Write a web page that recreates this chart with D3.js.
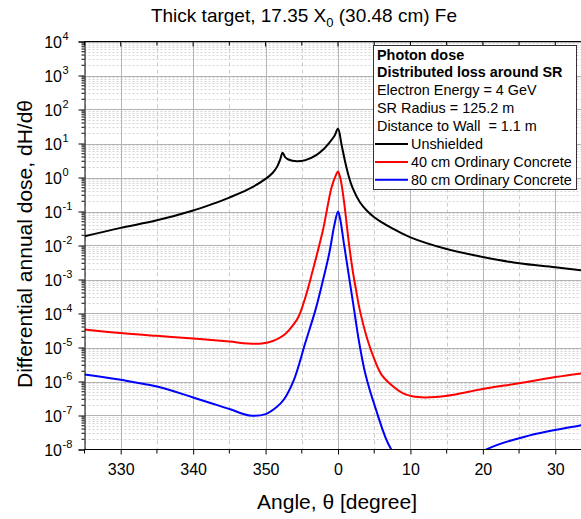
<!DOCTYPE html>
<html>
<head>
<meta charset="utf-8">
<script src="https://d3js.org/d3.v7.min.js"></script>
<style>
  body { margin: 0; background: #fff; }
  text { font-family: "Liberation Sans", Arial, sans-serif; fill: #000; white-space: pre; }
</style>
</head>
<body>
<div id="chart"></div>
<script>
// angle offsets in degrees, negative values mean 360 + angle
let unshieldedAngle = [-35, -30, -25, -20, -17.5, -15, -12.5, -10, -9, -8.4, -8.0, -7.65, -7.3, -6.85, -5.7, -4.5, -3.0, -2.0, -1.2, -0.5, 0, 0.5, 1.0, 1.5, 2.0, 3.0, 4.0, 5.0, 6.0, 7.5, 10, 15, 20, 25, 30, 35]
let unshieldedDose = [0.0186, 0.033, 0.055, 0.107, 0.162, 0.257, 0.437, 0.91, 1.38, 2.09, 3.31, 5.37, 3.98, 3.39, 2.99, 3.24, 4.57, 6.76, 10.5, 16.6, 27, 9, 2.8, 1.05, 0.5, 0.19, 0.105, 0.068, 0.049, 0.032, 0.0174, 0.0079, 0.0046, 0.003, 0.0023, 0.0017]

let concrete40Angle = [-35, -30, -25, -20, -15, -12.5, -10.5, -9, -7.5, -6.5, -5.5, -4.5, -3.5, -2.1, -0.9, -0.3, 0, 0.3, 0.6, 1.0, 1.5, 2.0, 2.5, 3.0, 4.0, 5.0, 6.0, 7.5, 9, 11, 13.5, 16, 20, 25, 30, 35]
let concrete40Dose = [3.4e-5, 2.65e-5, 2.2e-5, 1.85e-5, 1.5e-5, 1.32e-5, 1.32e-5, 1.55e-5, 2.3e-5, 3.8e-5, 7.6e-5, 3.0e-4, 1.8e-3, 0.027, 0.5, 1.15, 1.5, 1.0, 0.45, 0.1, 0.012, 2.0e-3, 4.8e-4, 1.3e-4, 1.9e-5, 4.6e-6, 1.6e-6, 7.5e-7, 4.5e-7, 3.5e-7, 3.5e-7, 4.1e-7, 6e-7, 8.9e-7, 1.35e-6, 1.9e-6]

let concrete80Angle = [-35, -30, -25, -20, -15, -12.2, -10, -8.5, -7.5, -6.1, -4.5, -3.1, -2.1, -1.2, -0.5, 0, 0.3, 0.8, 1.5, 2.2, 2.9, 3.8, 5.2, 7.3, 10, 13, 16, 20.5, 26.5, 33.4, 35]
let concrete80Dose = [1.6e-6, 1.12e-6, 7.1e-7, 3.4e-7, 1.55e-7, 1.0e-7, 1.1e-7, 1.75e-7, 2.9e-7, 1.1e-6, 1.4e-5, 1.3e-4, 9e-4, 6e-3, 0.04, 0.1, 0.06, 0.012, 1.3e-3, 1.4e-4, 1.5e-5, 1.6e-6, 1.6e-7, 1.05e-8, 2.5e-9, 1.3e-9, 2e-9, 1e-8, 2.6e-8, 5.1e-8, 6e-8]

let xTicks = [-30, -20, -10, 0, 10, 20, 30]
let xMinorTicks = [-35, -25, -15, -5, 5, 15, 25, 35]
let yExponents = [-8, -7, -6, -5, -4, -3, -2, -1, 0, 1, 2, 3, 4]

let legendHeader = ["Photon dose", "Distributed loss around SR"]
let legendInfo = ["Electron Energy = 4 GeV", "SR Radius = 125.2 m", "Distance to Wall  = 1.1 m"]
let seriesNames = ["Unshielded", "40 cm Ordinary Concrete", "80 cm Ordinary Concrete"]
let seriesColors = ["#000000", "#ff0000", "#0000ff"]

let W = 581, H = 519
let plotLeft = 84.5, plotTop = 41.5, plotBottom = 449.5, plotRight = 591.5

var svg = d3.select("#chart")
    .append("svg")
    .attr("width", W)
    .attr("height", H)

let x = d3.scaleLinear().domain([-35, 35]).range([plotLeft, plotRight])
let y = d3.scaleLog().domain([1e-8, 1e4]).range([plotBottom, plotTop])

svg.append("defs").append("clipPath").attr("id", "plotclip")
    .append("rect")
    .attr("x", plotLeft).attr("y", plotTop)
    .attr("width", plotRight - plotLeft).attr("height", plotBottom - plotTop)

// minor horizontal grid
let minorY = []
yExponents.slice(0, -1).forEach(e => {
    for (let k = 2; k <= 9; k++) minorY.push(k * Math.pow(10, e))
})
let grid = svg.append("g").attr("clip-path", "url(#plotclip)")
grid.selectAll(".gmy").data(minorY).enter().append("line")
    .attr("x1", plotLeft).attr("x2", plotRight)
    .attr("y1", d => Math.round(y(d)) + 0.5).attr("y2", d => Math.round(y(d)) + 0.5)
    .attr("stroke", "#d4d4d4").attr("stroke-width", 1).attr("stroke-dasharray", "2,2")
grid.selectAll(".gmx").data(xMinorTicks).enter().append("line")
    .attr("x1", d => Math.round(x(d)) + 0.5).attr("x2", d => Math.round(x(d)) + 0.5)
    .attr("y1", plotTop).attr("y2", plotBottom)
    .attr("stroke", "#cccccc").attr("stroke-width", 1).attr("stroke-dasharray", "4,3")
grid.selectAll(".gy").data(yExponents).enter().append("line")
    .attr("x1", plotLeft).attr("x2", plotRight)
    .attr("y1", d => Math.round(y(Math.pow(10, d))) + 0.5).attr("y2", d => Math.round(y(Math.pow(10, d))) + 0.5)
    .attr("stroke", "#b4b4b4").attr("stroke-width", 1)
grid.selectAll(".gx").data(xTicks).enter().append("line")
    .attr("x1", d => Math.round(x(d)) + 0.5).attr("x2", d => Math.round(x(d)) + 0.5)
    .attr("y1", plotTop).attr("y2", plotBottom)
    .attr("stroke", "#b4b4b4").attr("stroke-width", 1)

// curves
let series = [
    { a: unshieldedAngle, v: unshieldedDose },
    { a: concrete40Angle, v: concrete40Dose },
    { a: concrete80Angle, v: concrete80Dose }
]
let line = d3.line()
    .x(d => x(d[0]))
    .y(d => y(d[1]))
    .curve(d3.curveCatmullRom.alpha(0.5))
let curves = svg.append("g").attr("clip-path", "url(#plotclip)")
series.forEach((s, i) => {
    curves.append("path")
        .datum(d3.zip(s.a, s.v))
        .attr("d", line)
        .attr("fill", "none")
        .attr("stroke", seriesColors[i])
        .attr("stroke-width", 2)
        .attr("stroke-linejoin", "round")
})

// axes
let xAxis = d3.axisBottom(x).tickValues(xTicks).tickSize(5).tickPadding(9)
    .tickFormat(d => d < 0 ? d + 360 : d)
let gx = svg.append("g").attr("transform", "translate(0," + plotBottom + ")").call(xAxis)
gx.select(".domain").attr("d", "M" + plotLeft + ",0H" + W)
gx.selectAll("text").style("font-size", "16px").style("font-family", "Liberation Sans, Arial, sans-serif")
gx.selectAll(".minor").data(xMinorTicks).enter().append("line")
    .attr("x1", d => x(d)).attr("x2", d => x(d))
    .attr("y1", 0).attr("y2", 4).attr("stroke", "#000")

let gt = svg.append("g").attr("transform", "translate(0," + plotTop + ")")
gt.append("line").attr("x1", plotLeft).attr("x2", W).attr("stroke", "#000")
gt.selectAll(".t").data(xTicks.concat(xMinorTicks)).enter().append("line")
    .attr("x1", d => x(d)).attr("x2", d => x(d))
    .attr("y1", 0).attr("y2", d => xTicks.includes(d) ? 5 : 4).attr("stroke", "#000")

let yAxis = d3.axisLeft(y).tickValues(yExponents.map(e => Math.pow(10, e))).tickSize(6).tickFormat("")
let gy = svg.append("g").attr("transform", "translate(" + plotLeft + ",0)").call(yAxis)
gy.selectAll(".minor").data(minorY).enter().append("line")
    .attr("x1", -3).attr("x2", 0)
    .attr("y1", d => y(d)).attr("y2", d => y(d)).attr("stroke", "#000")

let ylab = svg.append("g")
ylab.selectAll("text").data(yExponents).enter().append("text")
    .attr("x", 62)
    .attr("y", d => y(Math.pow(10, d)) + 6)
    .attr("text-anchor", "end")
    .style("font-size", "16px")
    .text("10")
ylab.selectAll(".sup").data(yExponents).enter().append("text")
    .attr("x", 62.5)
    .attr("y", d => y(Math.pow(10, d)) - 2)
    .style("font-size", "11px")
    .text(d => d)

// titles
let title = svg.append("text")
    .attr("x", 304).attr("y", 22)
    .attr("text-anchor", "middle")
    .style("font-size", "19px")
title.append("tspan").text("Thick target, 17.35 X")
title.append("tspan").attr("dy", 5).style("font-size", "13px").text("0")
title.append("tspan").attr("dy", -5).text(" (30.48 cm) Fe")

svg.append("text")
    .attr("x", 337).attr("y", 509)
    .attr("text-anchor", "middle")
    .style("font-size", "21px")
    .text("Angle, θ [degree]")

svg.append("text")
    .attr("transform", "translate(32,244) rotate(-90)")
    .attr("text-anchor", "middle")
    .style("font-size", "21px")
    .text("Differential annual dose, dH/dθ")

// legend
let lg = svg.append("g")
lg.append("rect")
    .attr("x", 373.5).attr("y", 45.5)
    .attr("width", 203).attr("height", 144)
    .attr("fill", "#fff").attr("stroke", "#333").attr("stroke-width", 1)
let rows = legendHeader.concat(legendInfo)
lg.selectAll(".row").data(rows).enter().append("text")
    .attr("x", 377)
    .attr("y", (d, i) => 59.5 + i * 17.9)
    .style("font-size", "14.4px")
    .style("font-weight", (d, i) => i < 2 ? "bold" : "normal")
    .text(d => d)
seriesNames.forEach((n, i) => {
    let yy = 59.5 + (rows.length + i) * 17.9
    lg.append("line")
        .attr("x1", 375).attr("x2", 408)
        .attr("y1", yy - 5).attr("y2", yy - 5)
        .attr("stroke", seriesColors[i]).attr("stroke-width", 2)
    lg.append("text")
        .attr("x", 411).attr("y", yy)
        .style("font-size", "14.4px")
        .text(n)
})
</script>
</body>
</html>
